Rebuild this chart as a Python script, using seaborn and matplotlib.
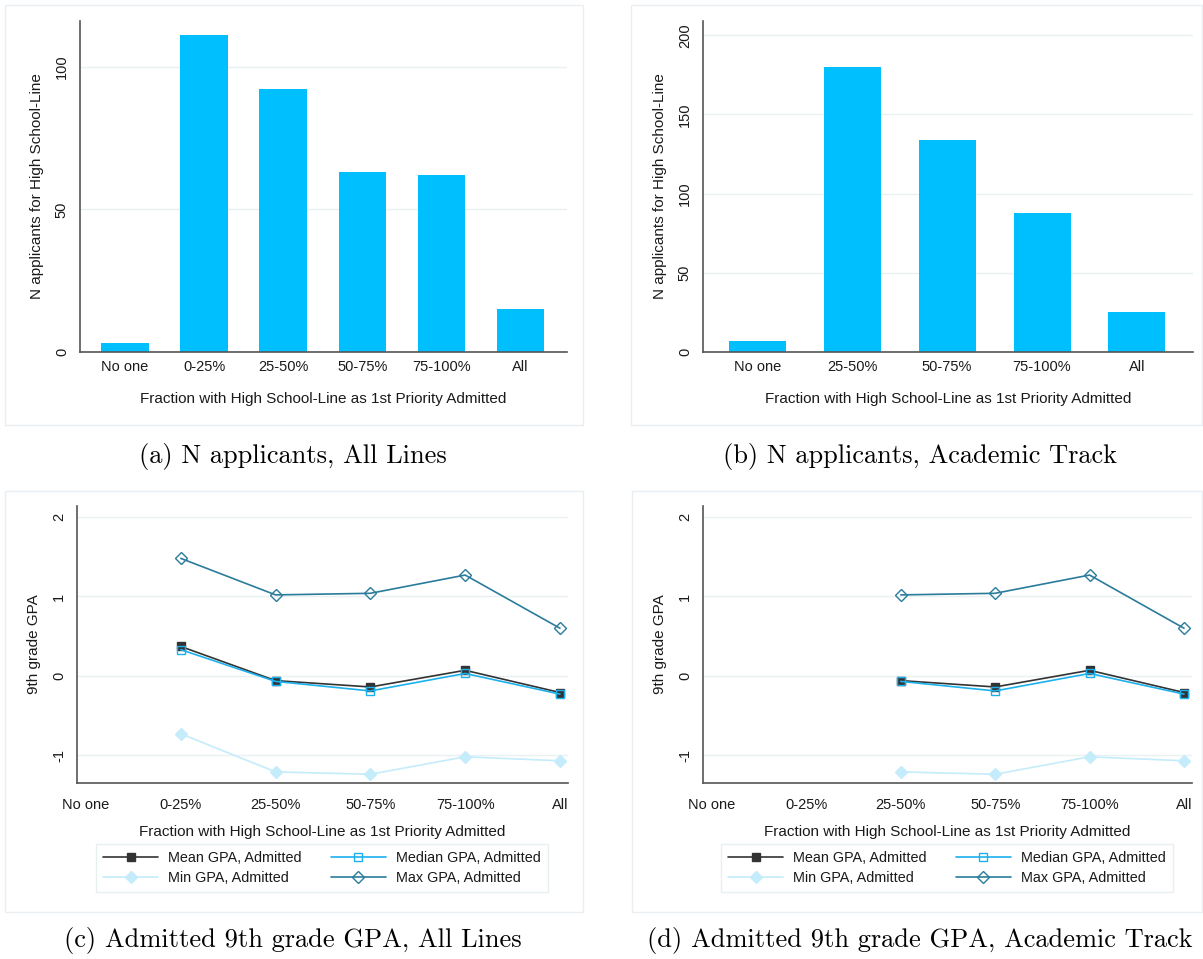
import numpy as np
import pandas as pd
import matplotlib
matplotlib.use("Agg")
import matplotlib.pyplot as plt
from matplotlib.patches import Rectangle
from matplotlib.lines import Line2D
import seaborn as sns

# ---------------- data ----------------
cats_all = ["No one", "0-25%", "25-50%", "50-75%", "75-100%", "All"]
n_all = [3, 111, 92, 63, 62, 15]

cats_acad = ["No one", "25-50%", "50-75%", "75-100%", "All"]
n_acad = [7, 180, 134, 88, 25]

gpa_cats = ["No one", "0-25%", "25-50%", "50-75%", "75-100%", "All"]
mean_all = [np.nan, 0.37, -0.06, -0.14, 0.07, -0.21]
median_all = [np.nan, 0.33, -0.07, -0.19, 0.03, -0.23]
min_all = [np.nan, -0.73, -1.21, -1.24, -1.02, -1.07]
max_all = [np.nan, 1.48, 1.02, 1.04, 1.27, 0.60]

mean_acad = [np.nan, np.nan, -0.06, -0.14, 0.07, -0.21]
median_acad = [np.nan, np.nan, -0.07, -0.19, 0.03, -0.23]
min_acad = [np.nan, np.nan, -1.21, -1.24, -1.02, -1.07]
max_acad = [np.nan, np.nan, 1.02, 1.04, 1.27, 0.60]

gpa_ticks = [-1, 0, 1, 2]
gpa_ticklabels = ["-1", "0", "1", "2"]

captions = ["(a) N applicants, All Lines", "(b) N applicants, Academic Track",
            "(c) Admitted 9th grade GPA, All Lines", "(d) Admitted 9th grade GPA, Academic Track"]

# ---------------- style ----------------
sns.set_theme(style="white")
plt.rcParams["font.family"] = ["Liberation Sans", "DejaVu Sans"]

BAR = "#00bfff"
GRID = "#e9f1f3"
SPINE = "#555555"
TXT = "#1a1a1a"
FS_TICK = 10.5
FS_LAB = 11.0
FS_LEG = 10.4

W, H = 1203, 959
fig = plt.figure(figsize=(W / 100, H / 100), dpi=100)


def fx(px):
    return px / W


def fy(py):
    return 1 - py / H


def mk_axes(l, r, t, b):
    return fig.add_axes([fx(l), fy(b), fx(r) - fx(l), fy(t) - fy(b)])


def style_axes(ax, yticks, yticklabels, xtickmarks):
    for s in ["top", "right"]:
        ax.spines[s].set_visible(False)
    for s in ["left", "bottom"]:
        ax.spines[s].set_color(SPINE)
        ax.spines[s].set_linewidth(1.2)
    ax.set_yticks(yticks)
    ax.set_yticklabels(yticklabels, rotation=90, va="center", fontsize=FS_TICK, color=TXT)
    ax.tick_params(axis="y", direction="out", length=5, width=1, color=SPINE, pad=3)
    ax.tick_params(axis="x", direction="out", length=5 if xtickmarks else 0,
                   width=1, color=SPINE, pad=6, labelsize=FS_TICK, labelcolor=TXT)
    ax.grid(False)
    for v in yticks:
        ax.axhline(v, color=GRID, lw=1.0, zorder=0)
    ax.set_facecolor("white")


# ---------------- bar panels ----------------
def bar_panel(ax, cats, vals, ymax, yticks):
    df = pd.DataFrame({"cat": cats, "n": vals})
    sns.barplot(data=df, x="cat", y="n", order=cats, color=BAR, saturation=1,
                width=0.6, ax=ax, zorder=2)
    for p in ax.patches:
        p.set_edgecolor("none")
    ax.set_xlim(-0.57, len(cats) - 1 + 0.59)
    ax.set_ylim(0, ymax)
    style_axes(ax, yticks, [str(t) for t in yticks], False)
    ax.set_xlabel("Fraction with High School-Line as 1st Priority Admitted",
                  fontsize=FS_LAB, color=TXT, labelpad=13)
    ax.set_ylabel("N applicants for High School-Line", fontsize=FS_LAB, color=TXT, labelpad=8)


ax_a = mk_axes(80, 567, 21, 352)
bar_panel(ax_a, cats_all, n_all, 116, [0, 50, 100])
ax_b = mk_axes(703, 1193, 21, 352)
bar_panel(ax_b, cats_acad, n_acad, 209, [0, 50, 100, 150, 200])

# ---------------- GPA panels ----------------
series_style = [
    ("Mean GPA, Admitted", "#333333", "s", "#333333", 6),
    ("Median GPA, Admitted", "#1cb0ec", "s", "none", 6),
    ("Min GPA, Admitted", "#c4ecfb", "D", "#c4ecfb", 6.5),
    ("Max GPA, Admitted", "#2a7c9b", "D", "none", 6.5),
]


def gpa_panel(ax, series, legend_cx):
    pos = np.arange(len(gpa_cats))
    handles = []
    for (label, col, mkr, mfc, ms), vals in zip(series_style, series):
        df = pd.DataFrame({"x": pos, "y": vals}).dropna()
        sns.lineplot(data=df, x="x", y="y", ax=ax, color=col, lw=1.2,
                     marker=mkr, markersize=ms, markerfacecolor=mfc,
                     markeredgecolor=col, markeredgewidth=1.0, sort=False,
                     zorder=3)
        handles.append(Line2D([0], [0], color=col, lw=1.2, marker=mkr,
                              markersize=ms, markerfacecolor=mfc,
                              markeredgecolor=col, markeredgewidth=1.0))
    ax.set_xlim(-0.095, 5.085)
    ax.set_ylim(-1.35, 2.14)
    ax.set_xticks(pos)
    ax.set_xticklabels(gpa_cats)
    style_axes(ax, gpa_ticks, gpa_ticklabels, True)
    ax.set_xlabel("Fraction with High School-Line as 1st Priority Admitted",
                  fontsize=FS_LAB, color=TXT, labelpad=9)
    ax.set_ylabel("9th grade GPA", fontsize=FS_LAB, color=TXT, labelpad=8)
    order = [0, 2, 1, 3]
    leg = fig.legend([handles[i] for i in order],
                     [series_style[i][0] for i in order],
                     loc="center", bbox_to_anchor=(fx(legend_cx), fy(868)),
                     ncol=2, fontsize=FS_LEG, frameon=True, fancybox=False,
                     handlelength=3.8, handletextpad=0.7, columnspacing=2.0,
                     labelspacing=0.45, borderpad=0.5)
    leg.get_frame().set_edgecolor("#e3ebee")
    leg.get_frame().set_linewidth(1.0)
    for t in leg.get_texts():
        t.set_color(TXT)


ax_c = mk_axes(77, 568, 506, 783)
gpa_panel(ax_c, [mean_all, median_all, min_all, max_all], 322)
ax_d = mk_axes(703, 1192, 506, 783)
gpa_panel(ax_d, [mean_acad, median_acad, min_acad, max_acad], 947)

# ---------------- panel borders & captions ----------------
for (l, r, t, b) in [(5, 583, 5, 425), (631, 1202, 5, 425),
                     (5, 583, 491, 912), (632, 1202, 491, 912)]:
    fig.add_artist(Rectangle((fx(l), fy(b)), fx(r) - fx(l), fy(t) - fy(b),
                             transform=fig.transFigure, fill=False,
                             edgecolor="#e8eef1", lw=1.0))

for txt, cx, cy in zip(captions, [293, 920, 293, 920], [456, 456, 940, 940]):
    fig.text(fx(cx), fy(cy), txt, ha="center", va="center",
             fontsize=19, family="cmr10", color="black")

fig.savefig("out.png", dpi=100, facecolor="white")
